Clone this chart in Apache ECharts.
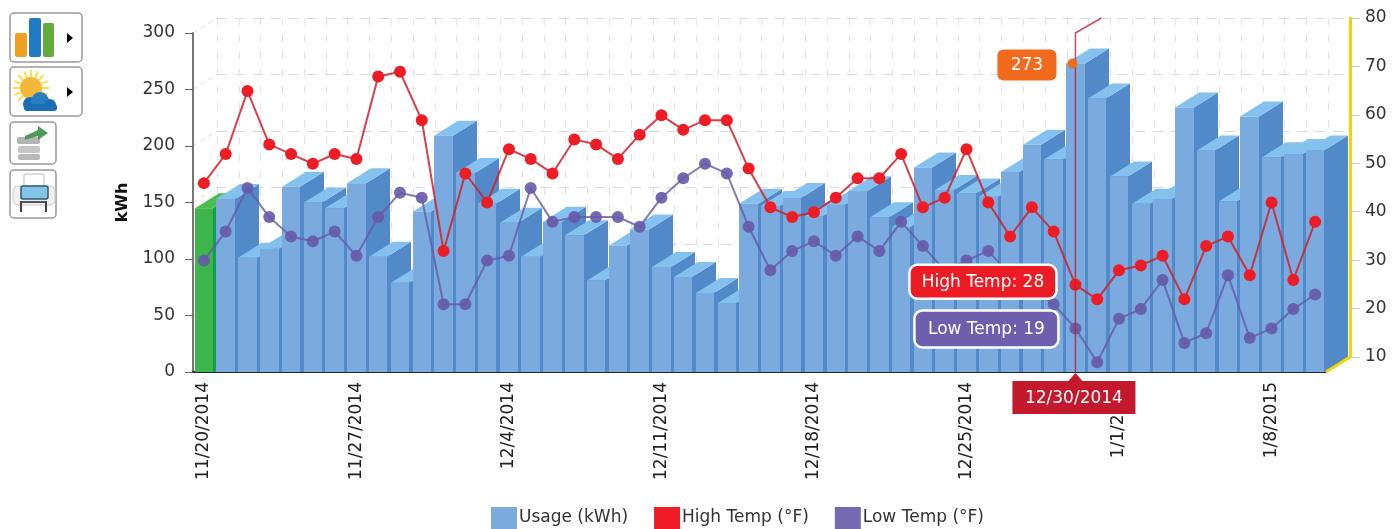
<!DOCTYPE html>
<html lang="en">

<head>
    <meta charset="UTF-8">
    <title>Usage</title>
    <script src="https://cdn.jsdelivr.net/npm/echarts@6/dist/echarts.min.js"></script>
    <style>
        html, body { margin: 0; padding: 0; background: #fff; }
    </style>
</head>

<body>
    <div id="main" style="width: 1396px;height:529px;"></div>

    <script type="text/javascript">
        var dates = ['11/20/2014', '11/21/2014', '11/22/2014', '11/23/2014', '11/24/2014', '11/25/2014', '11/26/2014',
            '11/27/2014', '11/28/2014', '11/29/2014', '11/30/2014', '12/1/2014', '12/2/2014', '12/3/2014',
            '12/4/2014', '12/5/2014', '12/6/2014', '12/7/2014', '12/8/2014', '12/9/2014', '12/10/2014',
            '12/11/2014', '12/12/2014', '12/13/2014', '12/14/2014', '12/15/2014', '12/16/2014', '12/17/2014',
            '12/18/2014', '12/19/2014', '12/20/2014', '12/21/2014', '12/22/2014', '12/23/2014', '12/24/2014',
            '12/25/2014', '12/26/2014', '12/27/2014', '12/28/2014', '12/29/2014', '12/30/2014', '12/31/2014',
            '1/1/2015', '1/2/2015', '1/3/2015', '1/4/2015', '1/5/2015', '1/6/2015', '1/7/2015',
            '1/8/2015', '1/9/2015', '1/10/2015'];
        var usage = [145, 153, 101, 109, 164, 150, 145, 167, 102, 79, 142, 209, 176,
            149, 132, 102, 133, 121, 81, 112, 126, 93, 84, 70, 61, 149,
            147, 154, 138, 148, 160, 137, 128, 181, 161, 158, 155, 177, 201,
            188, 273, 242, 173, 149, 153, 234, 196, 151, 226, 190, 193, 196];
        var highTemp = [49, 55, 68, 57, 55, 53, 55, 54, 71, 72, 62, 35, 51,
            45, 56, 54, 51, 58, 57, 54, 59, 63, 60, 62, 62, 52,
            44, 42, 43, 46, 50, 50, 55, 44, 46, 56, 45, 38, 44,
            39, 28, 25, 31, 32, 34, 25, 36, 38, 30, 45, 29, 41];
        var lowTemp = [33, 39, 48, 42, 38, 37, 39, 34, 42, 47, 46, 24, 24,
            33, 34, 48, 41, 42, 42, 42, 40, 46, 50, 53, 51, 40,
            31, 35, 37, 34, 38, 35, 41, 36, 31, 33, 35, 30, 27,
            24, 19, 12, 21, 23, 29, 16, 18, 30, 17, 19, 23, 26];

        var font = '"DejaVu Sans"';
        var depthX = 24;
        var depthY = 15;
        var selected = 40;

        var myChart = echarts.init(document.getElementById('main'));

        // 带立体感的柱子，前面、侧面、顶面
        function renderBar(params, api) {
            var i = api.value(0);
            var top = api.coord([i, api.value(1)]);
            var base = api.coord([i, 0]);
            var x0 = Math.round(top[0] - 9.25);
            var x1 = Math.round(top[0] + 9.25);
            var first = params.dataIndex === 0;
            return {
                type: 'group',
                children: [{
                    type: 'polygon',
                    shape: { points: [[x1, top[1]], [x1 + depthX, top[1] - depthY], [x1 + depthX, base[1] - depthY], [x1 + 4, base[1]], [x1, base[1]]] },
                    style: { fill: first ? '#10a050' : '#5289c9' }
                }, {
                    type: 'polygon',
                    shape: { points: [[x0, top[1]], [x0 + depthX, top[1] - depthY], [x1 + depthX, top[1] - depthY], [x1, top[1]]] },
                    style: { fill: first ? '#4dbd50' : '#85c1ee' }
                }, {
                    type: 'rect',
                    shape: { x: x0, y: top[1], width: x1 - x0, height: base[1] - top[1] },
                    style: { fill: first ? '#3cb54a' : '#7aaade' }
                }]
            };
        }

        var option = {
            animation: false,
            textStyle: { fontFamily: font },
            legend: {
                left: 486,
                top: 502,
                itemWidth: 26,
                itemHeight: 22,
                itemGap: 26,
                icon: 'rect',
                textStyle: { fontFamily: font, fontSize: 17, color: '#333', padding: [0, 0, 0, -3] },
                data: ['Usage (kWh)', 'High Temp (°F)', 'Low Temp (°F)']
            },
            grid: [
                { left: 193, top: 33, width: 1133, height: 339 },
                { left: 193 + depthX, top: 33 - depthY, width: 1133, height: 339 }
            ],
            xAxis: [{
                type: 'category',
                gridIndex: 0,
                data: dates,
                axisLine: { lineStyle: { color: '#1f2a44', width: 2 } },
                axisTick: { alignWithLabel: true, interval: 6, length: 6, lineStyle: { color: '#555' } },
                axisLabel: { interval: 6, rotate: 90, margin: 10, fontSize: 17, color: '#222', fontFamily: font },
                splitLine: { show: false }
            }, {
                type: 'category',
                gridIndex: 1,
                data: dates,
                axisLine: { show: false },
                axisTick: { show: false },
                axisLabel: { show: false },
                splitLine: { show: true, interval: 0, lineStyle: { color: '#e2e2e2', type: [7, 10] } }
            }],
            yAxis: [{
                type: 'value',
                gridIndex: 0,
                min: 0,
                max: 300,
                interval: 50,
                name: 'kWh',
                nameLocation: 'middle',
                nameGap: 62,
                nameTextStyle: { fontFamily: font, fontSize: 16, fontWeight: 'bold', color: '#111' },
                axisLine: { show: true, lineStyle: { color: '#777', width: 2 } },
                axisTick: { show: true, length: 8, lineStyle: { color: '#666' } },
                axisLabel: { margin: 18, fontSize: 17, color: '#333', fontFamily: font },
                splitLine: { show: false }
            }, {
                type: 'value',
                gridIndex: 0,
                position: 'right',
                min: 10,
                max: 80,
                interval: 10,
                show: false,
                splitLine: { show: false }
            }, {
                type: 'value',
                gridIndex: 1,
                min: 0,
                max: 300,
                interval: 50,
                axisLine: { show: false },
                axisTick: { show: false },
                axisLabel: { show: false },
                splitLine: { show: true, lineStyle: { color: '#d9d9d9', type: [10, 8] } }
            }, {
                type: 'value',
                gridIndex: 1,
                position: 'right',
                min: 10,
                max: 80,
                interval: 10,
                axisLine: { show: true, lineStyle: { color: '#f5d400', width: 3 } },
                axisTick: { show: true, length: 10, lineStyle: { color: '#ccc' } },
                axisLabel: { margin: 15, fontSize: 17, color: '#333', fontFamily: font },
                splitLine: { show: false }
            }],
            series: [{
                name: 'Usage (kWh)',
                type: 'custom',
                xAxisIndex: 0,
                yAxisIndex: 0,
                clip: false,
                z: 2,
                itemStyle: { color: '#7aaade' },
                encode: { x: 0, y: 1 },
                renderItem: renderBar,
                data: usage.map(function (v, i) { return [i, v]; })
            }, {
                name: 'Low Temp (°F)',
                type: 'line',
                xAxisIndex: 0,
                yAxisIndex: 1,
                z: 3,
                symbol: 'circle',
                symbolSize: 12,
                itemStyle: { color: '#6659a8', opacity: 0.9 },
                lineStyle: { color: '#6659a8', width: 2, opacity: 0.8 },
                data: lowTemp
            }, {
                name: 'High Temp (°F)',
                type: 'line',
                xAxisIndex: 0,
                yAxisIndex: 1,
                z: 4,
                symbol: 'circle',
                symbolSize: 12,
                itemStyle: { color: '#ee1c25' },
                lineStyle: { color: '#d0202c', width: 2, opacity: 0.85 },
                data: highTemp
            }]
        };
        myChart.setOption(option);

        // 以下是工具栏图标和选中日期的提示框
        function box(x, y, w, h) {
            return {
                type: 'rect', z: 20,
                shape: { x: x, y: y, width: w, height: h, r: 4 },
                style: { fill: '#fff', stroke: '#999', lineWidth: 1.5 }
            };
        }
        function rect(x, y, w, h, fill, r) {
            return { type: 'rect', z: 21, shape: { x: x, y: y, width: w, height: h, r: r || 0 }, style: { fill: fill } };
        }
        function circle(x, y, r, fill) {
            return { type: 'circle', z: 21, shape: { cx: x, cy: y, r: r }, style: { fill: fill } };
        }
        function arrow(x, y) {
            return { type: 'polygon', z: 21, shape: { points: [[x, y - 5], [x + 6, y], [x, y + 5]] }, style: { fill: '#000' } };
        }
        function sunRays(cx, cy, r) {
            var rays = [];
            for (var k = 0; k < 16; k++) {
                var a = k * Math.PI / 8;
                rays.push({
                    type: 'line', z: 21,
                    shape: { x1: cx, y1: cy, x2: cx + r * Math.cos(a), y2: cy + r * Math.sin(a) },
                    style: { stroke: '#f7e04a', lineWidth: 2 }
                });
            }
            return rays;
        }
        function badge(x, y, w, h, fill, stroke, r, text) {
            return [{
                type: 'rect', z: 30,
                shape: { x: x, y: y, width: w, height: h, r: r },
                style: { fill: fill, stroke: stroke, lineWidth: stroke ? 2.5 : 0 }
            }, {
                type: 'text', z: 31,
                style: {
                    text: text, x: x + w / 2, y: y + h / 2 + 1, fill: '#fff',
                    font: '17px ' + font, align: 'center', verticalAlign: 'middle'
                }
            }];
        }

        var icons = [
            box(10, 13, 72, 49),
            rect(15, 33, 12, 24, '#f0a020', 2), rect(29, 18, 12, 39, '#1f7cc4', 2), rect(43, 23, 11, 34, '#62ab3c', 2),
            arrow(67, 38),
            box(10, 67, 72, 49)
        ].concat(sunRays(31, 88, 18), [
            circle(31, 88, 11, '#f5b73a'),
            circle(30, 104, 7, '#1c6fb5'), circle(40, 101, 9, '#2a7fc4'), circle(50, 105, 6, '#1c6fb5'),
            rect(24, 104, 33, 7, '#1c6fb5', 3),
            arrow(67, 92),
            box(10, 122, 46, 42),
            rect(17, 137, 23, 7, '#b5b5b5', 2), rect(18, 146, 22, 7, '#c6c6c6', 2), rect(18, 154, 22, 6, '#b8b8b8', 2),
            { type: 'polygon', z: 21, shape: { points: [[25, 136], [38, 130], [38, 126], [48, 133], [38, 140], [38, 136], [25, 140]] }, style: { fill: '#4e9a58' } },
            box(10, 170, 46, 48),
            { type: 'rect', z: 21, shape: { x: 24, y: 174, width: 20, height: 16, r: 1 }, style: { fill: '#fff', stroke: '#bbb' } },
            { type: 'rect', z: 21, shape: { x: 13, y: 186, width: 42, height: 19, r: 5 }, style: { fill: '#f0f0f0', stroke: '#ccc' } },
            { type: 'rect', z: 22, shape: { x: 21, y: 186, width: 27, height: 13, r: 2 }, style: { fill: '#82c4e8', stroke: '#34566e', lineWidth: 1.5 } },
            rect(20, 201, 27, 2, '#555'), rect(20, 201, 2, 11, '#444'), rect(45, 201, 2, 11, '#444')
        ]);

        var bottom = myChart.convertToPixel({ xAxisIndex: 0, yAxisIndex: 0 }, [selected, 0]);
        var peak = myChart.convertToPixel({ xAxisIndex: 0, yAxisIndex: 0 }, [selected, usage[selected]]);
        var roof = myChart.convertToPixel({ xAxisIndex: 0, yAxisIndex: 0 }, [selected, 300]);
        var hi = myChart.convertToPixel({ xAxisIndex: 0, yAxisIndex: 1 }, [selected, highTemp[selected]]);
        var lo = myChart.convertToPixel({ xAxisIndex: 0, yAxisIndex: 1 }, [selected, lowTemp[selected]]);
        var dateX = bottom[0];

        var tips = [{
            type: 'polyline', z: 25,
            shape: { points: [[dateX, bottom[1]], [dateX, roof[1]], [dateX + depthX + 2, roof[1] - depthY]] },
            style: { fill: null, stroke: 'rgba(190,30,50,0.8)', lineWidth: 1.5 }
        }, {
            type: 'circle', z: 26,
            shape: { cx: dateX - 3, cy: peak[1], r: 5 },
            style: { fill: '#f26b1d' }
        }, {
            type: 'polygon', z: 29,
            shape: { points: [[dateX - 7, bottom[1] + 9], [dateX, bottom[1] + 1], [dateX + 7, bottom[1] + 9]] },
            style: { fill: '#c4182c' }
        }];
        tips = tips.concat(
            badge(dateX - 78, peak[1] - 14, 59, 31, '#f26b1d', null, 6, String(usage[selected])),
            badge(dateX - 166, hi[1] - 20, 147, 34, '#ed1c24', '#fff', 8, 'High Temp: ' + highTemp[selected]),
            badge(dateX - 161, lo[1] - 18, 144, 37, '#6e5fae', '#fff', 8, 'Low Temp: ' + lowTemp[selected]),
            badge(dateX - 63, bottom[1] + 9, 123, 33, '#c4182c', null, 0, dates[selected])
        );

        var wall = [0, 50, 100, 150, 200, 250, 300].map(function (v) {
            var p = myChart.convertToPixel({ yAxisIndex: 0, xAxisIndex: 0 }, [0, v]);
            return {
                type: 'line', z: 0, silent: true,
                shape: { x1: 193, y1: p[1], x2: 193 + depthX, y2: p[1] - depthY },
                style: { stroke: '#dedede', lineDash: [5, 4] }
            };
        });
        var yellow = {
            type: 'line', z: 5,
            shape: { x1: 193 + 1133, y1: bottom[1], x2: 193 + 1133 + depthX, y2: bottom[1] - depthY },
            style: { stroke: '#f5d400', lineWidth: 3 }
        };

        myChart.setOption({ graphic: { elements: icons.concat(tips, wall, [yellow]) } });
    </script>

</body>

</html>
